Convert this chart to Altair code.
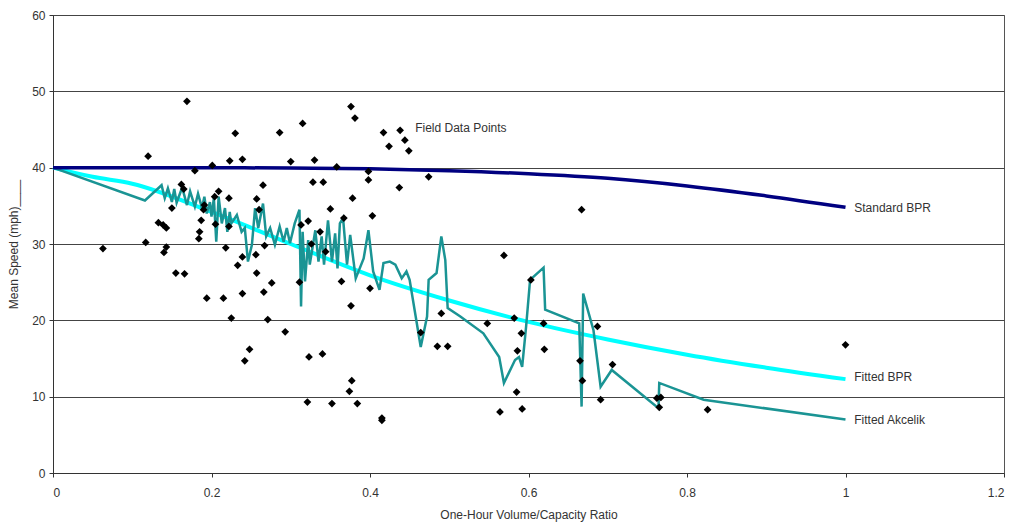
import altair as alt
import pandas as pd

# Field observations: volume/capacity ratio vs. mean speed (mph)
field_vc = [
    0.063, 0.117, 0.120, 0.133, 0.139, 0.143, 0.143, 0.140, 0.150, 0.155,
    0.166, 0.162, 0.165, 0.169, 0.179, 0.187, 0.185, 0.184, 0.190, 0.191,
    0.194, 0.201, 0.204, 0.209, 0.205, 0.215, 0.218, 0.222, 0.222, 0.223,
    0.225, 0.230, 0.233, 0.239, 0.239, 0.239, 0.242, 0.248, 0.256, 0.257,
    0.257, 0.260, 0.265, 0.266, 0.267, 0.271, 0.276, 0.286, 0.293, 0.300,
    0.311, 0.313, 0.315, 0.321, 0.322, 0.323, 0.326, 0.328, 0.330, 0.337,
    0.340, 0.341, 0.344, 0.350, 0.352, 0.358, 0.364, 0.367, 0.374, 0.376,
    0.376, 0.377, 0.378, 0.381, 0.384, 0.398, 0.398, 0.400, 0.403, 0.415,
    0.415, 0.417, 0.424, 0.437, 0.438, 0.444, 0.449, 0.464, 0.474, 0.485,
    0.490, 0.498, 0.548, 0.564, 0.569, 0.582, 0.585, 0.586, 0.591, 0.592,
    0.603, 0.619, 0.620, 0.665, 0.667, 0.668, 0.687, 0.691, 0.706, 0.762,
    0.767, 0.765, 0.826, 1.000,
]
field_speed = [
    29.4, 30.2, 41.5, 32.8, 32.5, 32.1, 29.6, 28.9, 34.7, 26.2,
    26.1, 37.8, 37.2, 48.7, 39.6, 33.1, 31.6, 30.7, 34.5, 35.1,
    22.9, 40.3, 36.2, 36.9, 32.6, 22.9, 29.5, 36.0, 32.3, 40.9,
    20.3, 44.5, 27.2, 41.1, 28.3, 23.5, 14.7, 16.2, 28.6, 26.2,
    35.9, 34.5, 37.7, 23.7, 29.8, 20.1, 24.9, 44.6, 18.5, 40.8,
    25.0, 32.5, 45.8, 9.3, 33.0, 15.2, 30.0, 38.1, 41.0, 31.6,
    15.6, 38.1, 29.0, 34.6, 9.1, 40.1, 25.1, 33.4, 10.7, 48.0,
    21.9, 12.1, 36.0, 46.5, 9.1, 39.5, 38.4, 24.2, 33.7, 7.2,
    6.9, 44.6, 42.8, 37.4, 44.9, 43.6, 42.2, 18.4, 38.8, 16.6,
    20.9, 16.6, 19.6, 8.0, 28.5, 20.3, 10.6, 16.0, 18.3, 8.4,
    25.3, 19.6, 16.2, 14.7, 34.5, 12.1, 19.2, 9.6, 14.2, 9.8,
    9.9, 8.6, 8.3, 16.8,
]

# Standard BPR curve
std_vc = [0.0, 0.1, 0.2, 0.3, 0.4, 0.5, 0.6, 0.7, 0.8, 0.9, 1.0]
std_speed = [40.0, 40.0, 39.99, 39.95, 39.85, 39.6, 39.2, 38.6, 37.6, 36.3, 34.8]

# Fitted BPR curve
fbpr_vc = [0.0, 0.05, 0.1, 0.2, 0.3, 0.4, 0.5, 0.6, 0.7, 0.8, 0.9, 1.0]
fbpr_speed = [40.0, 38.8, 37.9, 34.2, 30.0, 25.9, 22.6, 19.8, 17.5, 15.5, 13.8, 12.3]

# Fitted Akcelik model, evaluated at each observation in v/c order
akc_vc = [
    0.000, 0.116, 0.137, 0.141, 0.145, 0.150, 0.153, 0.156, 0.163, 0.169,
    0.173, 0.179, 0.183, 0.188, 0.191, 0.194, 0.198, 0.200, 0.203, 0.206,
    0.209, 0.213, 0.217, 0.220, 0.223, 0.225, 0.232, 0.238, 0.242, 0.246,
    0.251, 0.255, 0.259, 0.265, 0.269, 0.274, 0.280, 0.286, 0.291, 0.295,
    0.299, 0.305, 0.311, 0.313, 0.315, 0.318, 0.322, 0.324, 0.331, 0.335,
    0.339, 0.342, 0.347, 0.352, 0.356, 0.359, 0.362, 0.366, 0.371, 0.375,
    0.382, 0.392, 0.398, 0.404, 0.412, 0.417, 0.425, 0.432, 0.440, 0.446,
    0.450, 0.464, 0.472, 0.474, 0.484, 0.490, 0.495, 0.498, 0.514, 0.543,
    0.563, 0.569, 0.583, 0.588, 0.592, 0.597, 0.602, 0.619, 0.621, 0.664,
    0.667, 0.669, 0.682, 0.691, 0.705, 0.764, 0.765, 0.821, 1.000,
]
akc_speed = [
    40.0, 35.7, 37.7, 36.0, 37.3, 35.5, 37.2, 35.4, 37.4, 35.1,
    36.9, 34.9, 36.6, 34.7, 36.2, 34.0, 35.5, 33.6, 36.0, 30.3,
    36.2, 32.7, 34.7, 31.6, 34.2, 32.7, 33.8, 31.6, 32.1, 27.7,
    29.9, 34.7, 32.1, 35.3, 31.0, 32.1, 29.9, 32.3, 30.3, 32.1,
    30.1, 32.7, 34.5, 21.8, 31.6, 25.1, 30.5, 27.3, 31.8, 27.7,
    31.0, 27.3, 33.1, 27.7, 31.4, 26.8, 32.7, 33.4, 27.3, 31.2,
    25.5, 28.1, 31.8, 26.4, 24.0, 27.5, 27.7, 27.3, 25.5, 26.4,
    25.3, 16.5, 20.5, 25.3, 26.2, 31.0, 27.9, 21.6, 20.5, 18.3,
    15.2, 11.8, 14.8, 15.2, 13.9, 19.2, 25.3, 26.9, 21.4, 19.6,
    8.7, 23.5, 18.7, 11.3, 13.5, 8.5, 11.8, 9.6, 7.0,
]

# Series labels placed beside the curves
label_text = ["Field Data Points", "Standard BPR", "Fitted BPR", "Fitted Akcelik"]
label_vc = [0.457, 1.011, 1.011, 1.011]
label_speed = [45.2, 34.7, 12.6, 6.9]

FONT = "Liberation Sans"

field_df = pd.DataFrame({"vc": field_vc, "speed": field_speed})
std_df = pd.DataFrame({"vc": std_vc, "speed": std_speed})
fbpr_df = pd.DataFrame({"vc": fbpr_vc, "speed": fbpr_speed})
akc_df = pd.DataFrame({"vc": akc_vc, "speed": akc_speed, "order": range(len(akc_vc))})
label_df = pd.DataFrame({"vc": label_vc, "speed": label_speed, "text": label_text})

x_scale = alt.Scale(domain=[0, 1.2], nice=False, zero=False)
y_scale = alt.Scale(domain=[0, 60], nice=False)

x_enc = alt.X(
    "vc:Q",
    scale=x_scale,
    axis=alt.Axis(
        title="One-Hour Volume/Capacity Ratio",
        values=[0, 0.2, 0.4, 0.6, 0.8, 1.0, 1.2],
        format="~g",
        grid=False,
        tickSize=4,
        labelPadding=10,
        titleY=36,
        titleBaseline="top",
    ),
)
y_enc = alt.Y(
    "speed:Q",
    scale=y_scale,
    axis=alt.Axis(
        title="Mean Speed (mph)____",
        values=[0, 10, 20, 30, 40, 50, 60],
        grid=True,
        tickSize=4,
        labelPadding=4,
        titleX=-33,
        titleY=229,
        titleBaseline="bottom",
    ),
)

akcelik = alt.Chart(akc_df).mark_line(color="#1A9494", strokeWidth=2.5).encode(
    x=x_enc, y=y_enc, order="order:Q"
)
fitted_bpr = alt.Chart(fbpr_df).mark_line(
    color="#00FFFF", strokeWidth=4, interpolate="monotone"
).encode(x="vc:Q", y="speed:Q")
standard_bpr = alt.Chart(std_df).mark_line(
    color="#000080", strokeWidth=3.5, interpolate="monotone"
).encode(x="vc:Q", y="speed:Q")
points = alt.Chart(field_df).mark_point(
    shape="diamond", filled=True, color="black", size=60, opacity=1
).encode(x="vc:Q", y="speed:Q")
labels = alt.Chart(label_df).mark_text(
    align="left", baseline="middle", font=FONT, fontSize=12, color="#333333"
).encode(x="vc:Q", y="speed:Q", text="text:N")

chart = (
    alt.layer(fitted_bpr, akcelik, standard_bpr, points, labels)
    .properties(
        width=951,
        height=458,
        autosize=alt.AutoSizeParams(type="none"),
        padding={"left": 53, "top": 15, "right": 11, "bottom": 53},
    )
    .configure(font=FONT, background="white")
    .configure_view(stroke="#555555", strokeWidth=1)
    .configure_axis(
        domainColor="#333333",
        tickColor="#333333",
        gridColor="#444444",
        gridWidth=1,
        labelFont=FONT,
        labelFontSize=12,
        labelColor="#333333",
        titleFont=FONT,
        titleFontSize=12,
        titleFontWeight="normal",
        titleColor="#333333",
    )
)

chart.save("out.html", embed_options={"renderer": "svg", "actions": False})
